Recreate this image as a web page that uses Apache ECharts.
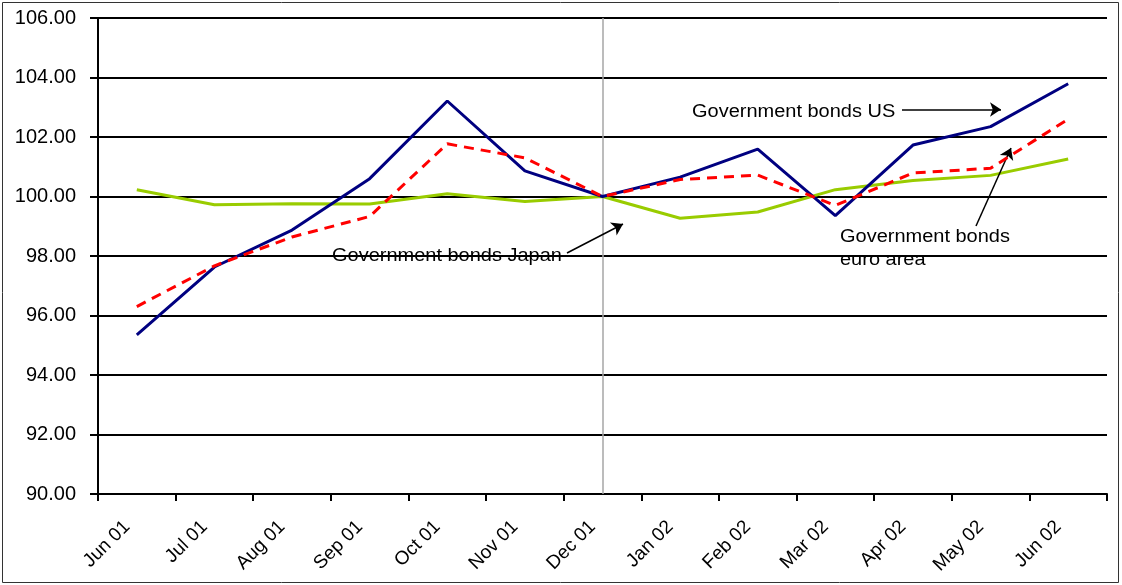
<!DOCTYPE html>
<html>
<head>
<meta charset="utf-8">
<script src="https://cdn.jsdelivr.net/npm/echarts@6/dist/echarts.min.js"></script>
<style>
  html, body { margin: 0; padding: 0; background: #fff; }
  #chart { width: 1122px; height: 585px; }
</style>
</head>
<body>
<div id="chart"></div>
<script>
// month labels on the category axis
const months = ['Jun 01', 'Jul 01', 'Aug 01', 'Sep 01', 'Oct 01', 'Nov 01', 'Dec 01',
  'Jan 02', 'Feb 02', 'Mar 02', 'Apr 02', 'May 02', 'Jun 02']

// index values, Dec 01 = 100
const bondsUS = [95.35, 97.63, 98.87, 100.6, 103.21, 100.86, 100.0, 100.65, 101.59, 99.36, 101.73, 102.35, 103.79]
const bondsEuro = [96.3, 97.67, 98.64, 99.33, 101.77, 101.3, 100.0, 100.57, 100.72, 99.7, 100.79, 100.95, 102.6]
const bondsJapan = [100.23, 99.72, 99.76, 99.75, 100.09, 99.83, 100.0, 99.27, 99.48, 100.23, 100.54, 100.71, 101.26]

const yMin = 90
const yMax = 106
const yStep = 2

const myChart = echarts.init(document.getElementById('chart'))

const fontName = '"Liberation Sans", Arial, sans-serif'
const annFont = '18px ' + fontName
const stretch = 1.11 // reference text is drawn a bit wide

const option = {
  backgroundColor: '#fff',
  animation: false,
  grid: {
    left: 98,
    right: 15,
    top: 18,
    bottom: 91,
    containLabel: false
  },
  xAxis: {
    type: 'category',
    data: months,
    boundaryGap: true,
    axisLine: { lineStyle: { color: '#000', width: 2 } },
    axisTick: { show: true, length: 7, alignWithLabel: false, lineStyle: { color: '#000', width: 2 } },
    axisLabel: {
      rotate: 45,
      interval: 0,
      margin: 20,
      padding: [0, 14, 0, 0],
      color: '#000',
      fontFamily: fontName,
      fontSize: 19
    },
    splitLine: { show: false }
  },
  yAxis: {
    type: 'value',
    min: yMin,
    max: yMax,
    interval: yStep,
    axisLine: { show: true, lineStyle: { color: '#000', width: 2 } },
    axisTick: { show: true, length: 8, lineStyle: { color: '#000', width: 2 } },
    axisLabel: {
      margin: 22,
      color: '#000',
      fontFamily: fontName,
      fontSize: 20,
      formatter: v => v.toFixed(2)
    },
    splitLine: { show: true, lineStyle: { color: '#000', width: 2 } }
  },
  series: [
    {
      name: 'Government bonds Japan',
      type: 'line',
      data: bondsJapan,
      symbol: 'none',
      lineStyle: { color: '#99cc00', width: 3 },
      z: 3,
      // grey divider at the year end
      markLine: {
        silent: true,
        symbol: 'none',
        label: { show: false },
        lineStyle: { color: '#a6a6a6', width: 1.5, type: 'solid' },
        data: [{ xAxis: 'Dec 01' }],
        z: 1
      }
    },
    {
      name: 'Government bonds US',
      type: 'line',
      data: bondsUS,
      symbol: 'none',
      lineStyle: { color: '#000080', width: 3 },
      z: 4
    },
    {
      name: 'Government bonds euro area',
      type: 'line',
      data: bondsEuro,
      symbol: 'none',
      lineStyle: { color: '#ff0000', width: 3, type: [10, 7] },
      z: 5,
      // annotation arrows
      markLine: {
        silent: true,
        symbol: ['none', 'arrow'],
        symbolSize: 11,
        label: { show: false },
        lineStyle: { color: '#000', width: 1.5, type: 'solid' },
        data: [
          [{ x: 902, y: 109.5 }, { x: 1001, y: 109.5 }],
          [{ x: 567, y: 253 }, { x: 623, y: 224 }],
          [{ x: 976, y: 226 }, { x: 1011, y: 148 }]
        ]
      }
    }
  ],
  graphic: [
    {
      type: 'rect',
      shape: { x: 2.5, y: 2.5, width: 1116, height: 580 },
      style: { fill: 'none', stroke: '#333', lineWidth: 1 },
      silent: true
    },
    {
      type: 'text', x: 692, y: 112, scaleX: stretch, z: 100,
      style: { text: 'Government bonds US', font: annFont, fill: '#000', textVerticalAlign: 'middle' }
    },
    {
      type: 'text', x: 332, y: 256, scaleX: stretch, z: 100,
      style: { text: 'Government bonds Japan', font: annFont, fill: '#000', textVerticalAlign: 'middle' }
    },
    {
      type: 'text', x: 840, y: 237, scaleX: stretch, z: 100,
      style: { text: 'Government bonds', font: annFont, fill: '#000', textVerticalAlign: 'middle' }
    },
    {
      type: 'text', x: 840, y: 260, scaleX: stretch, z: 100,
      style: { text: 'euro area', font: annFont, fill: '#000', textVerticalAlign: 'middle' }
    }
  ]
}

myChart.setOption(option)
window.addEventListener('resize', () => {
  myChart.resize()
}, false)
</script>
</body>
</html>
